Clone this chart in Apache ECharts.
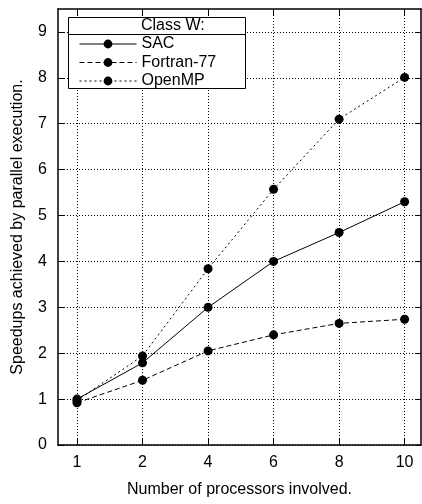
<!DOCTYPE html>
<html lang="en">
<head>
    <meta charset="UTF-8">
    <title>Speedups, Class W</title>
    <script src="https://cdn.jsdelivr.net/npm/echarts@6/dist/echarts.min.js"></script>
    <style>
        html, body { margin: 0; padding: 0; background: #fff; }
        #chart { width: 422px; height: 504px; }
    </style>
</head>
<body>
    <div id="chart"></div>
    <script>
        // processor counts (evenly spaced on the x axis)
        var procLabels = ['1', '2', '4', '6', '8', '10'];
        var yTicks = [0, 1, 2, 3, 4, 5, 6, 7, 8, 9];

        // speedups
        var sacValues = [1.00, 1.79, 3.00, 4.00, 4.63, 5.30];
        var fortranValues = [0.92, 1.41, 2.05, 2.40, 2.65, 2.74];
        var openmpValues = [0.97, 1.94, 3.84, 5.57, 7.10, 8.01];

        var font = 'Liberation Sans, Arial, sans-serif';
        var xIdx = procLabels.map(function (l, i) { return i; });

        function pairs(vals) {
            return vals.map(function (v, i) { return [i, v]; });
        }

        function lineSeries(name, vals, dash) {
            return {
                name: name,
                type: 'line',
                data: pairs(vals),
                symbol: 'circle',
                symbolSize: 9,
                itemStyle: { color: '#000' },
                lineStyle: { color: '#000', width: 1, type: dash },
                z: 3
            };
        }

        var chart = echarts.init(document.getElementById('chart'));

        var frameLine = { show: true, onZero: false, lineStyle: { color: '#000', width: 1.5 } };
        var gridDots = { show: true, lineStyle: { color: '#000', width: 1, type: [1, 2] } };
        var tickStyle = { color: '#000', width: 1 };

        var option = {
            animation: false,
            backgroundColor: '#fff',
            grid: { left: 58, top: 9, right: 1, bottom: 59 },
            xAxis: [{
                type: 'value',
                min: -0.29, max: 5.25,
                name: 'Number of processors involved.',
                nameLocation: 'middle',
                nameGap: 37,
                nameTextStyle: { fontFamily: font, fontSize: 16, color: '#000' },
                axisLine: frameLine,
                axisTick: { show: true, inside: true, length: 6, customValues: xIdx, lineStyle: tickStyle },
                axisLabel: {
                    customValues: xIdx, margin: 10,
                    fontFamily: font, fontSize: 16, color: '#000',
                    formatter: function (v) { return procLabels[Math.round(v)]; }
                },
                splitLine: gridDots
            }, {
                type: 'value', position: 'top',
                min: -0.29, max: 5.25,
                axisLine: frameLine,
                axisTick: { show: true, inside: true, length: 6, customValues: xIdx, lineStyle: tickStyle },
                axisLabel: { show: false },
                splitLine: { show: false }
            }],
            yAxis: [{
                type: 'value',
                min: 0, max: 9.5,
                name: 'Speedups achieved by parallel execution.',
                nameLocation: 'middle',
                nameGap: 32,
                nameTextStyle: { fontFamily: font, fontSize: 16, color: '#000' },
                axisLine: frameLine,
                axisTick: { show: true, inside: true, length: 6, customValues: yTicks, lineStyle: tickStyle },
                axisLabel: { customValues: yTicks, margin: 11, fontFamily: font, fontSize: 16, color: '#000' },
                splitLine: gridDots
            }, {
                type: 'value', position: 'right',
                min: 0, max: 9.5,
                axisLine: frameLine,
                axisTick: { show: true, inside: true, length: 6, customValues: yTicks, lineStyle: tickStyle },
                axisLabel: { show: false },
                splitLine: { show: false }
            }],
            legend: {
                orient: 'vertical',
                left: 79, top: 36,
                padding: 0,
                itemWidth: 57, itemHeight: 11, itemGap: 2.5,
                lineStyle: { width: 1 },
                textStyle: { fontFamily: font, fontSize: 16, lineHeight: 16, color: '#000' },
                z: 6,
                data: ['SAC', 'Fortran-77', 'OpenMP']
            },
            graphic: [{
                type: 'rect', z: 5,
                shape: { x: 68.5, y: 17.5, width: 177, height: 71 },
                style: { fill: '#fff', stroke: '#000', lineWidth: 1 }
            }, {
                type: 'line', z: 5,
                shape: { x1: 68.5, y1: 34.5, x2: 245.5, y2: 34.5 },
                style: { stroke: '#000', lineWidth: 1 }
            }, {
                type: 'text', z: 6, left: 141, top: 18,
                style: { text: 'Class W:', font: '16px ' + font, fill: '#000' }
            }],
            series: [
                lineSeries('SAC', sacValues, 'solid'),
                lineSeries('Fortran-77', fortranValues, [5, 3]),
                lineSeries('OpenMP', openmpValues, [2, 3])
            ]
        };

        chart.setOption(option);
    </script>
</body>
</html>
